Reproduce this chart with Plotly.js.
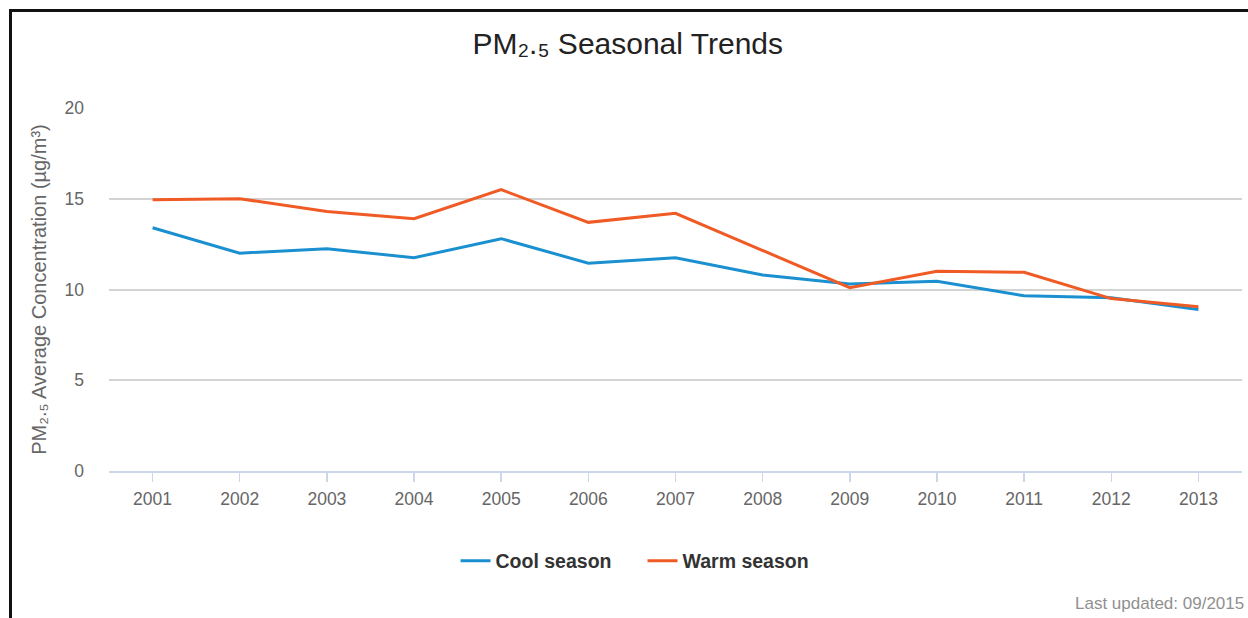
<!DOCTYPE html>
<html>
<head>
<meta charset="utf-8">
<script src="https://cdn.plot.ly/plotly-3.0.1.min.js"></script>
<style>
  html, body { margin: 0; padding: 0; background: #fff; }
  #wrap { position: relative; width: 1248px; height: 618px; overflow: hidden; }
  #chart { position: absolute; left: 0; top: 0; width: 1248px; height: 618px; }
  #frame { position: absolute; left: 9px; top: 9px; width: 1300px; height: 700px;
           border-left: 3px solid #111; border-top: 3px solid #111; pointer-events: none; }
</style>
</head>
<body>
<div id="wrap">
  <div id="chart"></div>
  <div id="frame"></div>
</div>
<script>
const years = ["2001","2002","2003","2004","2005","2006","2007","2008","2009","2010","2011","2012","2013"];
const coolSeason = [13.4, 12.0, 12.25, 11.75, 12.8, 11.45, 11.75, 10.8, 10.3, 10.45, 9.65, 9.55, 8.9];
const warmSeason = [14.95, 15.0, 14.3, 13.9, 15.5, 13.7, 14.2, 12.15, 10.1, 11.0, 10.95, 9.5, 9.05];
const yTicks = [0, 5, 10, 15, 20];

const FONT = "Liberation Sans, Arial, sans-serif";

const traces = [
  { x: years, y: coolSeason, name: "Cool season", type: "scatter", mode: "lines",
    line: { color: "#1a90d0", width: 3 } },
  { x: years, y: warmSeason, name: "Warm season", type: "scatter", mode: "lines",
    line: { color: "#f05a24", width: 3 } }
];

const layout = {
  width: 1248, height: 618, autosize: false,
  margin: { l: 109, r: 6, t: 108, b: 147 },
  paper_bgcolor: "#fff", plot_bgcolor: "#fff",
  font: { family: FONT, color: "#666" },
  title: { text: "PM₂.₅ Seasonal Trends", font: { family: FONT, size: 30, color: "#222" },
           xref: "container", yref: "container", x: 0.503, y: 1 - 43/618,
           xanchor: "center", yanchor: "middle" },
  xaxis: { type: "category", range: [-0.5, years.length - 0.5], showgrid: false,
           showline: true, linecolor: "#ccd6eb", linewidth: 2,
           ticks: "outside", ticklen: 9, tickwidth: 1.5, tickcolor: "#ccd6eb",
           tickfont: { family: FONT, size: 17.5, color: "#666" }, ticklabelstandoff: 2,
           zeroline: false, fixedrange: true },
  yaxis: { range: [0, 20], tickvals: yTicks, showline: false, zeroline: false,
           gridcolor: "#d3d3d3", gridwidth: 2, ticks: "",
           tickfont: { family: FONT, size: 17.5, color: "#666" }, ticklabelstandoff: 24,
           automargin: true,
           title: { text: "PM₂.₅ Average Concentration (µg/m³)", standoff: 12,
                    font: { family: FONT, size: 20, color: "#666" } },
           fixedrange: true },
  showlegend: true,
  legend: { orientation: "h", x: 0.4709, xanchor: "center", y: -0.248, yanchor: "middle",
            font: { family: FONT, size: 19.5, color: "#333", weight: 700 },
            itemwidth: 30, entrywidth: 142 },
  annotations: [
    { text: "Last updated: 09/2015", xref: "paper", yref: "paper", x: 1.0035, y: -0.366,
      xanchor: "right", yanchor: "middle", showarrow: false,
      font: { family: FONT, size: 17, color: "#909090" } }
  ]
};

Plotly.newPlot("chart", traces, layout, { displayModeBar: false, staticPlot: true });
</script>
</body>
</html>
